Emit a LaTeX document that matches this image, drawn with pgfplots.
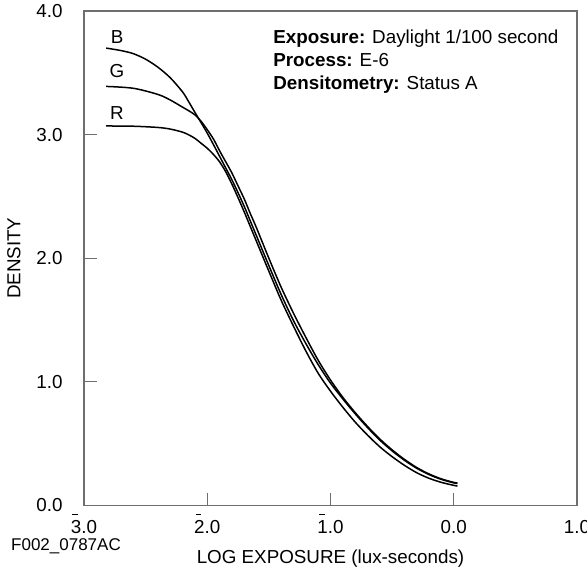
\documentclass[border=0pt]{standalone}
\usepackage{fontspec}
\setmainfont{Liberation Sans}
\usepackage{pgfplots}
\pgfplotsset{compat=1.18}

% negative characteristic: bar over the digit
\newcommand{\nb}[1]{\makebox[0pt][l]{\hspace{0.08em}\raisebox{1.02em}{\rule{0.3em}{0.5pt}}}#1}

\begin{document}
\begin{tikzpicture}[font=\fontsize{9.4}{11}\selectfont]
\begin{axis}[
  scale only axis, width=246.5pt, height=247.25pt,
  xmin=-3, xmax=1, ymin=0, ymax=4,
  xtick={-3,-2,-1,0,1}, xticklabels={\nb{3}.0,\nb{2}.0,\nb{1}.0,0.0,1.0},
  ytick={0,1,2,3,4}, yticklabels={0.0,1.0,2.0,3.0,4.0},
  tick pos=left, tick align=inside, major tick length=6.5pt,
  axis line style={draw=black!57, line width=0.6pt},
  tick style={draw=black!57, line width=0.6pt},
  xticklabel style={anchor=base, inner sep=0pt, yshift=-14.1pt},
  yticklabel style={anchor=east, inner sep=0pt, xshift=-10.5pt},
  xlabel={LOG EXPOSURE (lux-seconds)}, ylabel={DENSITY},
  every axis x label/.style={at={(axis description cs:0.5,-0.108)}, anchor=center},
  every axis y label/.style={at={(axis description cs:-0.142,0.5)}, anchor=center, rotate=90},
  clip=false,
]
% R
\addplot[black, line width=0.75pt, smooth] coordinates {
 (-2.82,3.070) (-2.6,3.068) (-2.4,3.058) (-2.3,3.045) (-2.2,3.020) (-2.15,2.998)
 (-2.1,2.970) (-2.05,2.930) (-2.0,2.890) (-1.95,2.840) (-1.9,2.780) (-1.85,2.700)
 (-1.8,2.600) (-1.75,2.490) (-1.7,2.375) (-1.65,2.255) (-1.6,2.135) (-1.5,1.895)
 (-1.4,1.660) (-1.3,1.450) (-1.2,1.250) (-1.1,1.070) (-1.0,0.925) (-0.9,0.795)
 (-0.8,0.675) (-0.7,0.570) (-0.6,0.475) (-0.5,0.395) (-0.4,0.325) (-0.3,0.265)
 (-0.2,0.220) (-0.1,0.187) (0.0,0.163) (0.03,0.157)};
% G
\addplot[black, line width=0.75pt, smooth] coordinates {
 (-2.82,3.390) (-2.6,3.375) (-2.4,3.325) (-2.3,3.280) (-2.2,3.222) (-2.15,3.193)
 (-2.1,3.160) (-2.05,3.108) (-2.0,3.040) (-1.95,2.965) (-1.9,2.870) (-1.85,2.780)
 (-1.8,2.690) (-1.75,2.585) (-1.7,2.480) (-1.65,2.360) (-1.6,2.245) (-1.5,2.000)
 (-1.4,1.765) (-1.3,1.555) (-1.2,1.360) (-1.1,1.175) (-1.0,1.015) (-0.9,0.875)
 (-0.8,0.752) (-0.7,0.640) (-0.6,0.538) (-0.5,0.450) (-0.4,0.373) (-0.3,0.307)
 (-0.2,0.255) (-0.1,0.215) (0.0,0.187) (0.03,0.182)};
% B
\addplot[black, line width=0.75pt, smooth] coordinates {
 (-2.82,3.700) (-2.7,3.680) (-2.6,3.655) (-2.5,3.610) (-2.4,3.545) (-2.3,3.460)
 (-2.2,3.345) (-2.15,3.265) (-2.1,3.180) (-2.05,3.097) (-2.0,3.012) (-1.95,2.920)
 (-1.9,2.825) (-1.85,2.730) (-1.8,2.635) (-1.75,2.530) (-1.7,2.420) (-1.65,2.300)
 (-1.6,2.180) (-1.5,1.940) (-1.4,1.706) (-1.3,1.495) (-1.2,1.310) (-1.1,1.140)
 (-1.0,0.990) (-0.9,0.862) (-0.8,0.742) (-0.7,0.631) (-0.6,0.529) (-0.5,0.442)
 (-0.4,0.366) (-0.3,0.301) (-0.2,0.250) (-0.1,0.211) (0.0,0.183) (0.03,0.178)};

\node[anchor=base, inner sep=0pt] at (axis cs:-2.732,3.739) {B};
\node[anchor=base, inner sep=0pt] at (axis cs:-2.732,3.459) {G};
\node[anchor=base, inner sep=0pt] at (axis cs:-2.732,3.119) {R};

\node[anchor=base west, inner sep=0pt] at (axis cs:-1.467,3.739) {\textbf{Exposure:} Daylight 1/100 second};
\node[anchor=base west, inner sep=0pt] at (axis cs:-1.467,3.548) {\textbf{Process:} E-6};
\node[anchor=base west, inner sep=0pt] at (axis cs:-1.467,3.362) {\textbf{Densitometry:} Status A};

\node[anchor=center, inner sep=0pt, font=\fontsize{8.5}{10}\selectfont]
  at (axis description cs:-0.0365,-0.082) {F002\_0787AC};

\coordinate (sw) at (rel axis cs:0,0);
\coordinate (ne) at (rel axis cs:1,1);
\end{axis}
\pgfresetboundingbox
\path[use as bounding box] ([shift={(-42pt,-34.25pt)}]sw) rectangle ([shift={(5pt,5.5pt)}]ne);
\end{tikzpicture}
\end{document}
